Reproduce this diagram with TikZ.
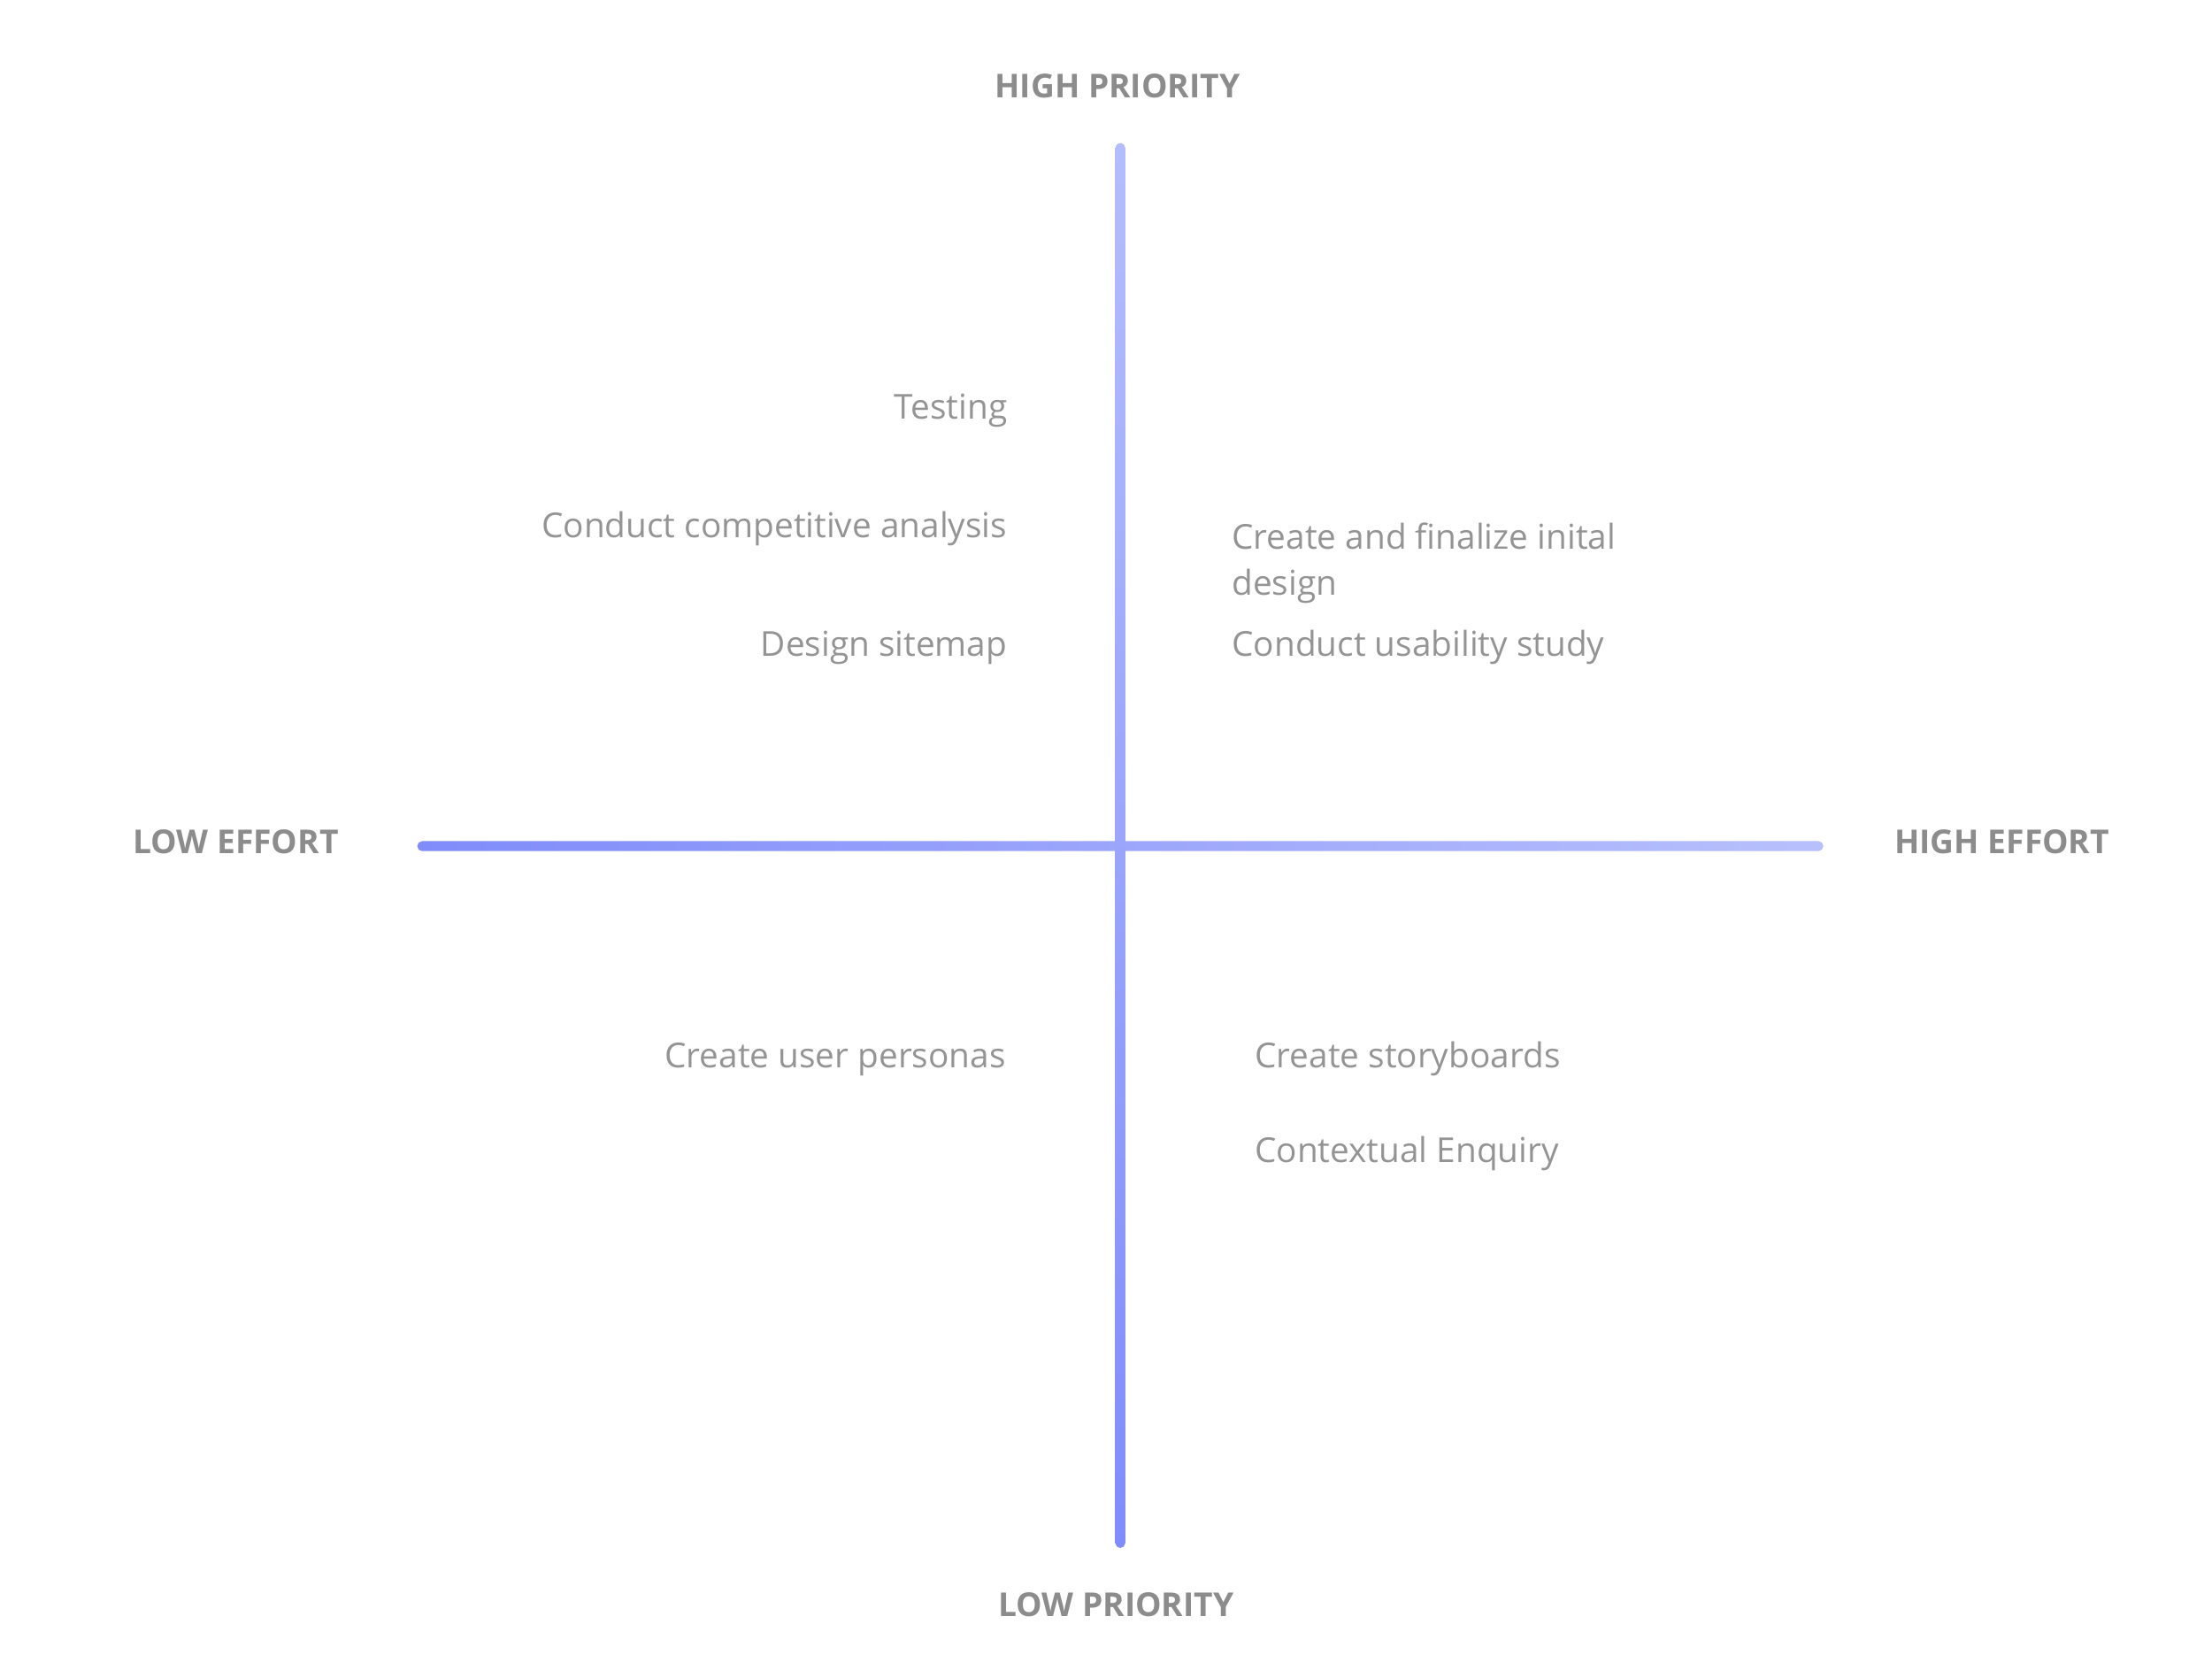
\documentclass[tikz,border=0pt]{standalone}
\usepackage{fontspec}
\setmainfont{Open Sans}
\begin{document}
\begin{tikzpicture}[x=1pt,y=-1pt,
  item/.style={text=black!42,font=\fontsize{24}{29}\selectfont,inner sep=0pt},
  axis/.style={text=black!45,font=\bfseries\fontsize{23}{28}\selectfont,inner sep=0pt}]
\useasboundingbox[fill=white] (0,0) rectangle (1548,1168);
\shade[left color={rgb,255:red,128;green,140;blue,250},right color={rgb,255:red,184;green,192;blue,252},rounded corners=3.5pt]
  (292,588.5) rectangle (1276,595.5);
\shade[top color={rgb,255:red,180;green,189;blue,252},bottom color={rgb,255:red,128;green,140;blue,250},rounded corners=3.5pt]
  (780.5,100) rectangle (787.5,1083);
\node[axis] (hp) at (782,60) {HIGH PRIORITY};
\node[axis] (lp) at (781,1123) {LOW PRIORITY};
\node[axis] (le) at (165,589) {LOW EFFORT};
\node[axis] (he) at (1401,589) {HIGH EFFORT};
\node[item,anchor=east] (t1) at (705,287) {Testing};
\node[item,anchor=east] (t2) at (705,370) {Conduct competitive analysis};
\node[item,anchor=east] (t3) at (705,453) {Design sitemap};
\node[item,anchor=east] (t4) at (704,741) {Create user personas};
\node[item,anchor=west] (t5) at (862,375) {Create and finalize inital};
\node[item,anchor=west] (t5b) at (862,410) {design};
\node[item,anchor=west] (t6) at (862,453) {Conduct usability study};
\node[item,anchor=west] (t7) at (878,741) {Create storyboards};
\node[item,anchor=west] (t8) at (878,807) {Contextual Enquiry};
\end{tikzpicture}
\end{document}
